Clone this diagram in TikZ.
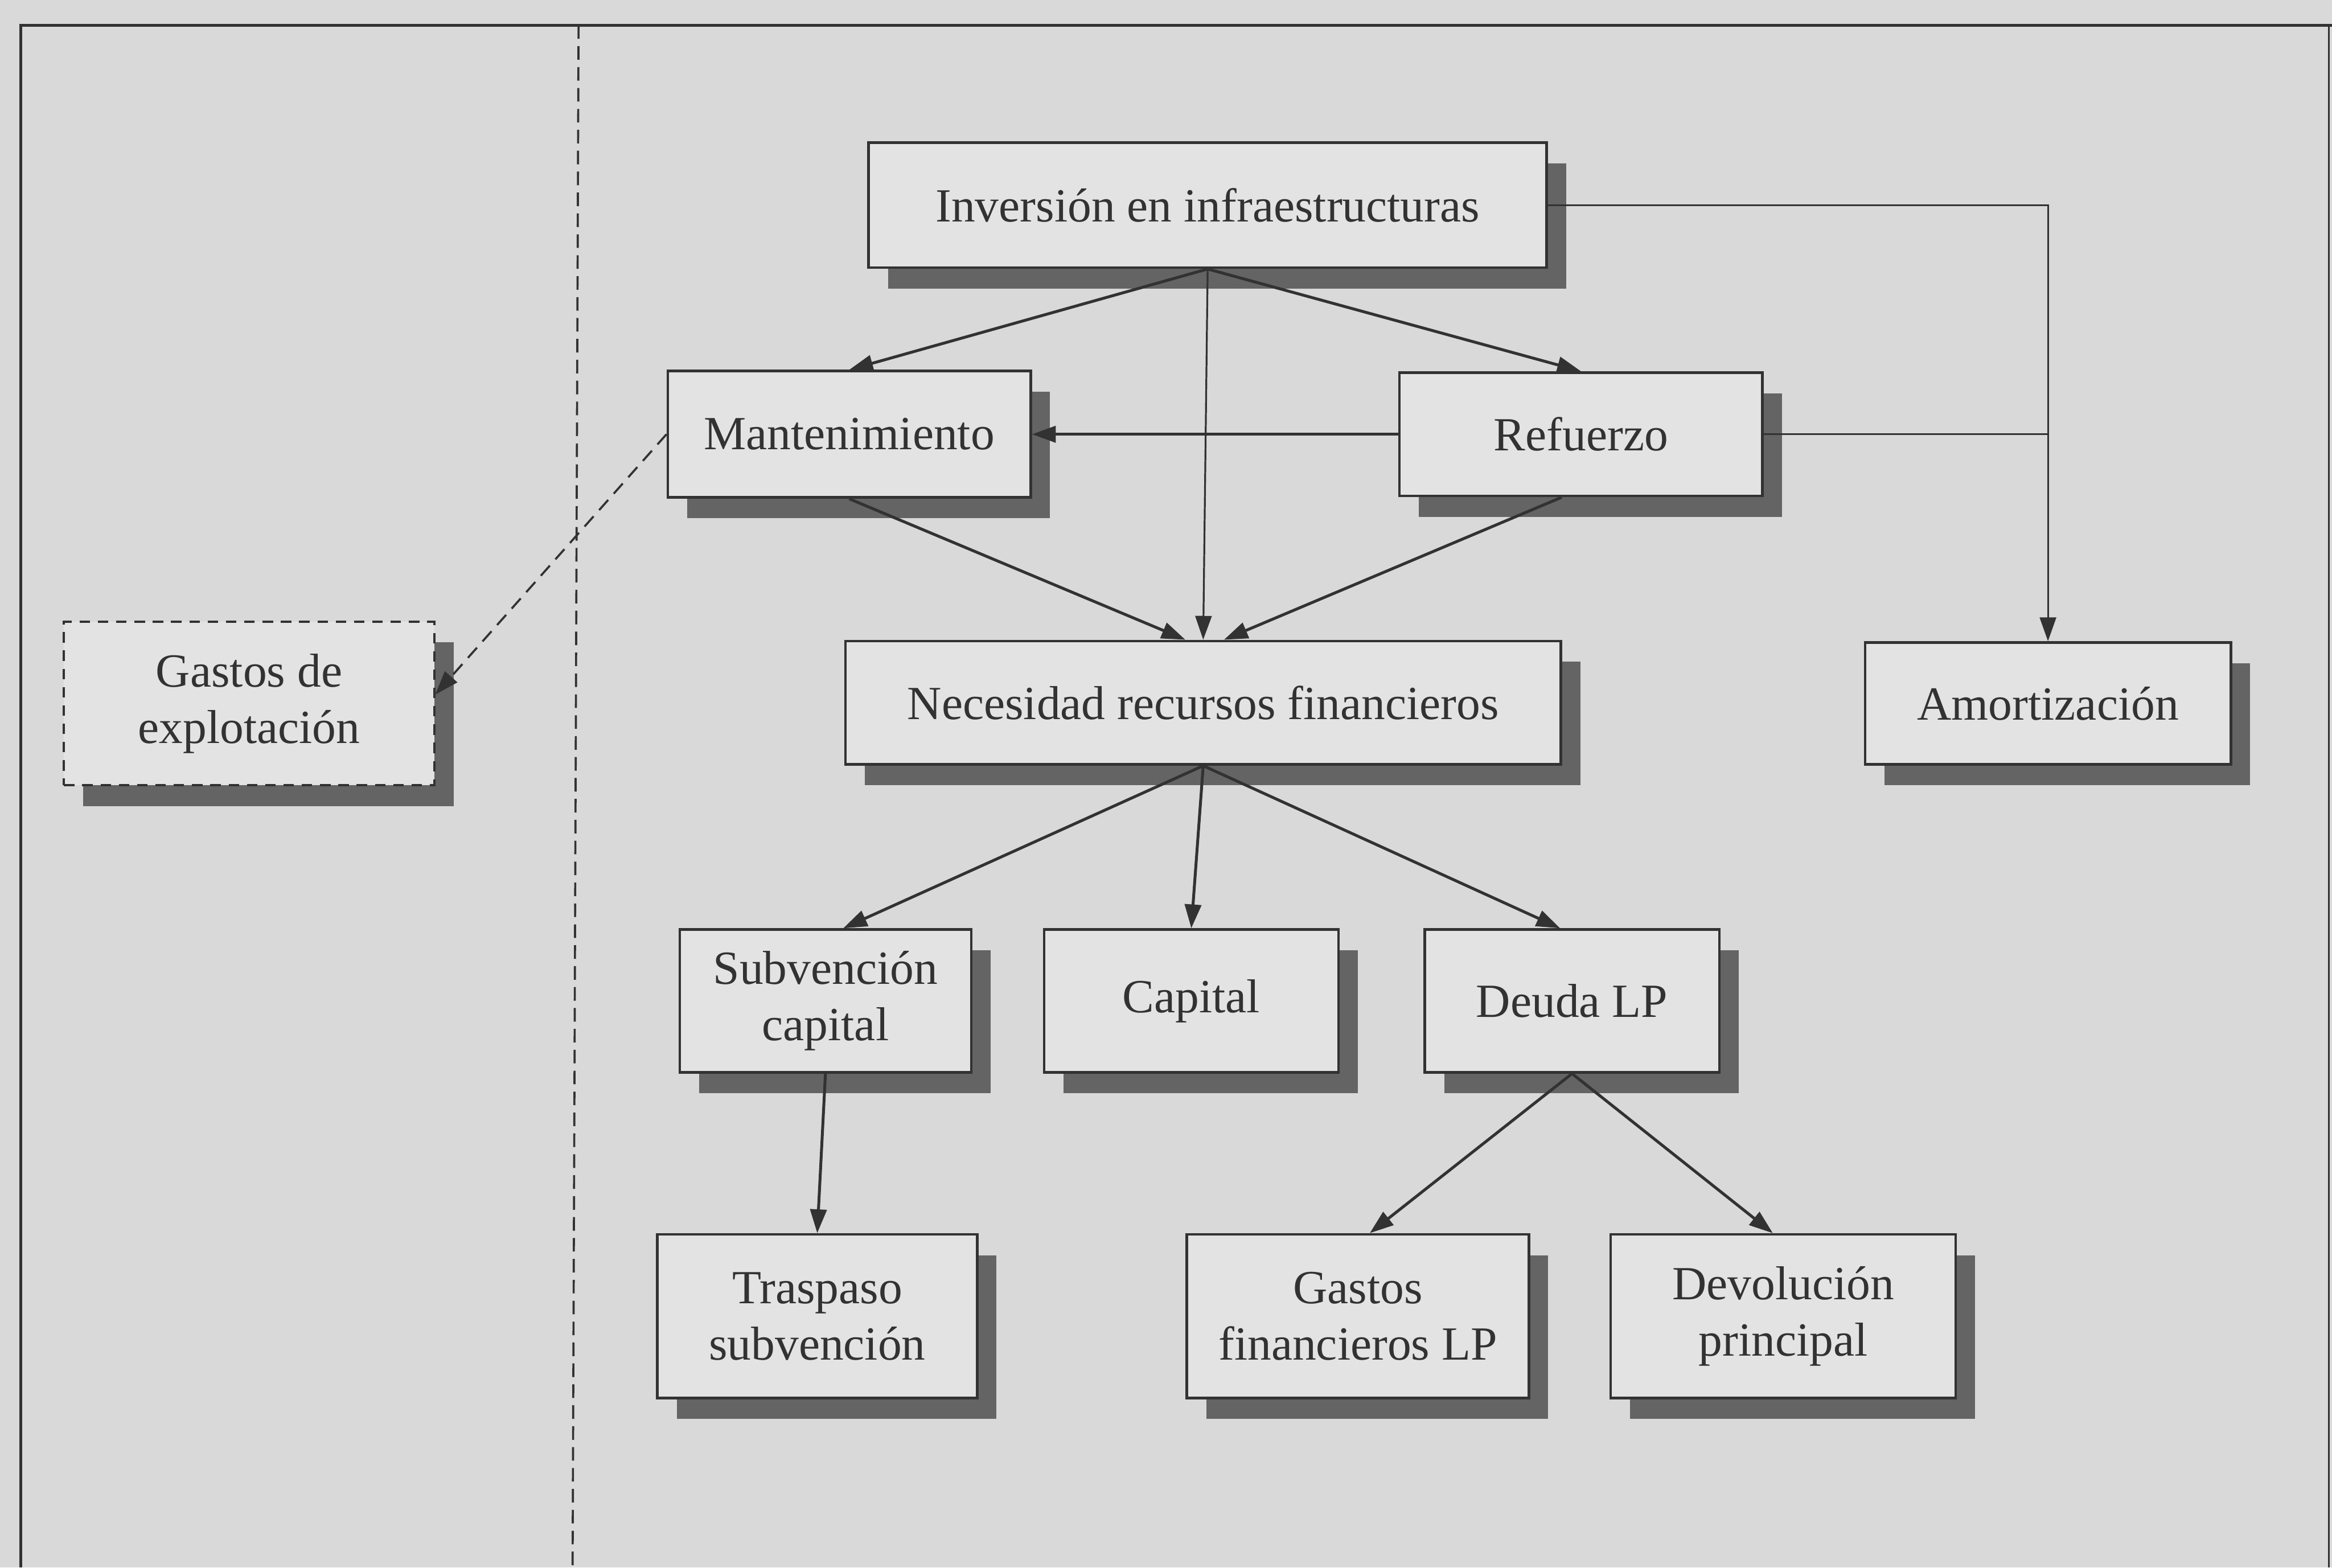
\documentclass[tikz,border=0pt]{standalone}
\usepackage{fontspec}
\setmainfont{Liberation Serif}
\usetikzlibrary{arrows.meta,shadows}
\definecolor{fondo}{RGB}{217,217,217}
\definecolor{relleno}{RGB}{227,227,227}
\definecolor{sombra}{RGB}{100,100,100}
\definecolor{tinta}{RGB}{50,50,50}

\begin{document}
\begin{tikzpicture}
[caja/.style={draw=tinta,line width=0.5pt,fill=relleno,text=tinta,align=center,inner sep=2pt,
  font=\fontsize{9.1}{10.8}\selectfont,
  drop shadow={shadow xshift=0.13cm,shadow yshift=-0.14cm,fill=sombra,opacity=1}},
 fl/.style={-{Triangle[length=1.6mm,width=1.1mm]},line width=0.55pt,draw=tinta},
 fina/.style={line width=0.35pt,draw=tinta}]
\fill [fondo] (0cm,0cm) rectangle (15.68cm,10.54cm);
\useasboundingbox (0cm,0cm) rectangle (15.68cm,10.54cm);

% marco
\draw [tinta,line width=0.5pt] (0.14cm,0cm) -- (0.14cm,10.37cm) -- (15.68cm,10.37cm);
\draw [tinta,line width=0.35pt] (15.66cm,10.37cm) -- (15.66cm,0cm);
\draw [tinta,line width=0.4pt,dash pattern=on 2.6pt off 1.4pt] (3.89cm,10.37cm) -- (3.85cm,0cm);

\node [caja,minimum width=4.56cm,minimum height=0.84cm] at (8.12cm,9.16cm) (inv) {Inversión en infraestructuras};
\node [caja,minimum width=2.44cm,minimum height=0.85cm] at (5.71cm,7.62cm) (man) {Mantenimiento};
\node [caja,minimum width=2.44cm,minimum height=0.83cm] at (10.63cm,7.62cm) (ref) {Refuerzo};
\node [caja,minimum width=4.81cm,minimum height=0.83cm] at (8.09cm,5.815cm) (nec) {Necesidad recursos financieros};
\node [caja,minimum width=2.46cm,minimum height=0.82cm] at (13.77cm,5.81cm) (amo) {Amortización};
\node [caja,line width=0.4pt,dash pattern=on 2pt off 1.5pt,minimum width=2.49cm,minimum height=1.10cm] at (1.675cm,5.81cm) (gas) {Gastos de\\explotación};
\node [caja,minimum width=1.96cm,minimum height=0.96cm] at (5.55cm,3.81cm) (sub) {Subvención\\capital};
\node [caja,minimum width=1.98cm,minimum height=0.96cm] at (8.01cm,3.81cm) (cap) {Capital};
\node [caja,minimum width=1.98cm,minimum height=0.96cm] at (10.57cm,3.81cm) (deu) {Deuda LP};
\node [caja,minimum width=2.15cm,minimum height=1.10cm] at (5.495cm,1.69cm) (tra) {Traspaso\\subvención};
\node [caja,minimum width=2.30cm,minimum height=1.10cm] at (9.13cm,1.69cm) (gfi) {Gastos\\financieros LP};
\node [caja,minimum width=2.32cm,minimum height=1.10cm] at (11.99cm,1.69cm) (dev) {Devolución\\principal};

\draw [fl] (inv.south) -- (man.north);
\draw [fl] (inv.south) -- (ref.north);
\draw [fl,fina] (inv.south) -- (nec.north);
\draw [fl] (man.south) -- ([xshift=-0.12cm]nec.north);
\draw [fl] ([xshift=-0.13cm]ref.south) -- ([xshift=0.14cm]nec.north);
\draw [fl] (ref.west) -- (man.east);
\draw [fl,fina] (inv.east) -| (amo.north);
\draw [fina] (ref.east) -- (ref.east -| amo.north);
\draw [fl,line width=0.4pt,dash pattern=on 2.6pt off 1.6pt] (man.west) -- ([yshift=0.06cm]gas.east);
\draw [fl] (nec.south) -- ([xshift=0.12cm]sub.north);
\draw [fl] (nec.south) -- (cap.north);
\draw [fl] (nec.south) -- ([xshift=-0.08cm]deu.north);
\draw [fl] (sub.south) -- (tra.north);
\draw [fl] (deu.south) -- ([xshift=0.08cm]gfi.north);
\draw [fl] (deu.south) -- ([xshift=-0.07cm]dev.north);
\end{tikzpicture}
\end{document}
